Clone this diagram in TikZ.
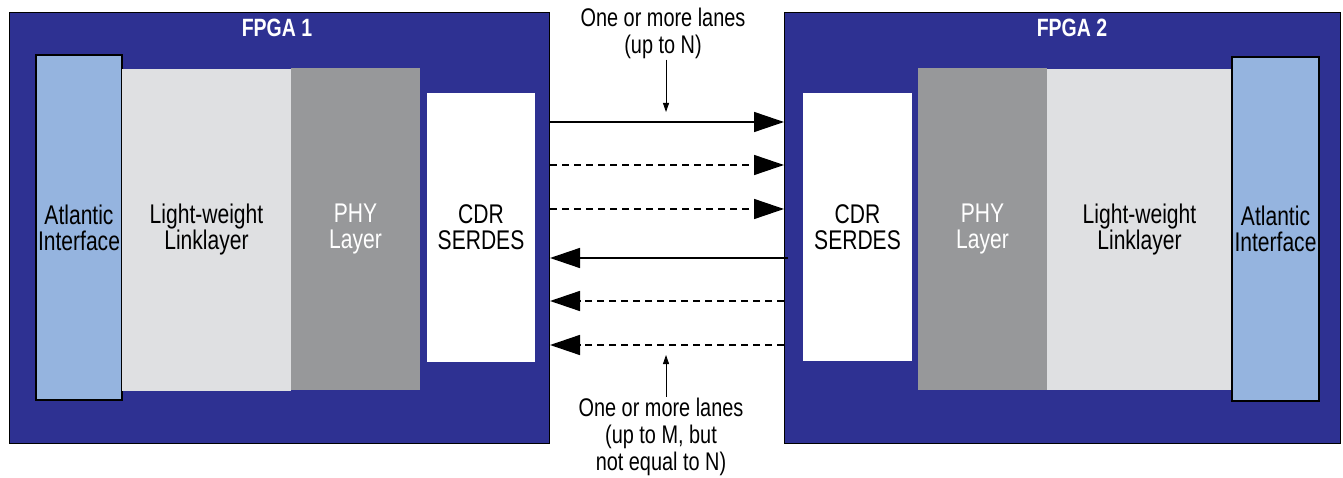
\documentclass[tikz,border=0pt]{standalone}
\usepackage{fontspec}
\setmainfont{Liberation Sans}[FakeStretch=0.78]
\usetikzlibrary{arrows.meta}
\definecolor{fpganavy}{HTML}{2E3192}
\definecolor{atlblue}{HTML}{95B4DF}
\definecolor{linkgray}{HTML}{DFE0E2}
\definecolor{phygray}{HTML}{97989A}
\begin{document}
\begin{tikzpicture}[x=1pt,y=-1pt,
    txt/.style={font=\fontsize{25.5}{27}\selectfont,align=center,inner sep=1pt},
    boxtxt/.style={font=\fontsize{27}{26}\selectfont,align=center,inner sep=0pt},
    fpgabox/.style={draw=black,line width=1pt,fill=fpganavy},
    atlbox/.style={boxtxt,draw=black,line width=1.2pt,fill=atlblue},
    linkbox/.style={boxtxt,fill=linkgray},
    phybox/.style={boxtxt,fill=phygray,text=white},
    cdrbox/.style={boxtxt,fill=white},
    lane/.style={line width=1.5pt,-{Triangle[length=30pt,width=20pt]}},
    note/.style={line width=0.8pt,-{Triangle[length=9pt,width=6pt]}}]
    \useasboundingbox (0,0) rectangle (1343,478);
    % the two FPGAs
    \node[fpgabox,minimum width=540pt,minimum height=430pt] (fpgaA) at (279.5,228) {};
    \node[fpgabox,minimum width=555.5pt,minimum height=430pt] (fpgaB) at (1062.25,228) {};
    \node[txt,text=white,font=\fontsize{25}{26}\selectfont\bfseries] (titleA) at (277,28) {FPGA 1};
    \node[txt,text=white,font=\fontsize{25}{26}\selectfont\bfseries] (titleB) at (1072,28) {FPGA 2};
    % FPGA 1 layers
    \node[atlbox,minimum width=86pt,minimum height=345pt] (atlA) at (79,227.5) {Atlantic\\Interface};
    \node[linkbox,minimum width=169pt,minimum height=322pt] (linkA) at (206.5,230) {Light-weight\\Linklayer};
    \node[phybox,minimum width=129pt,minimum height=322pt] (phyA) at (355.5,229) {PHY\\Layer};
    \node[cdrbox,minimum width=108pt,minimum height=269pt] (cdrA) at (481,227.5) {CDR\\SERDES};
    % FPGA 2 layers
    \node[cdrbox,minimum width=109pt,minimum height=268pt] (cdrB) at (857.5,227) {CDR\\SERDES};
    \node[phybox,minimum width=129pt,minimum height=322pt] (phyB) at (982.5,229) {PHY\\Layer};
    \node[linkbox,minimum width=185pt,minimum height=321pt] (linkB) at (1139.5,229.5) {Light-weight\\Linklayer};
    \node[atlbox,minimum width=87pt,minimum height=344pt] (atlB) at (1275.5,229) {Atlantic\\Interface};
    % lanes
    \coordinate (laneA) at (0,122);
    \coordinate (laneB) at (0,165);
    \coordinate (laneC) at (0,209);
    \coordinate (laneD) at (0,258);
    \coordinate (laneE) at (0,301);
    \coordinate (laneF) at (0,345);
    \draw[lane] (fpgaA.east |- laneA) -- (fpgaB.west |- laneA);
    \draw[lane,dash pattern=on 7pt off 5pt] (fpgaA.east |- laneB) -- (fpgaB.west |- laneB);
    \draw[lane,dash pattern=on 7pt off 5pt] (fpgaA.east |- laneC) -- (fpgaB.west |- laneC);
    \draw[lane] ([xshift=4pt]fpgaB.west |- laneD) -- (fpgaA.east |- laneD);
    \draw[lane,dash pattern=on 7pt off 5pt] (fpgaB.west |- laneE) -- (fpgaA.east |- laneE);
    \draw[lane,dash pattern=on 7pt off 5pt] (fpgaB.west |- laneF) -- (fpgaA.east |- laneF);
    % lane notes
    \node[txt] (noteN) at (663,33) {One or more lanes\\(up to N)};
    \node[txt] (noteM) at (661,437) {One or more lanes\\(up to M, but\\not equal to N)};
    \coordinate (tipN) at (666,112);
    \coordinate (tipM) at (666,355);
    \draw[note] (noteN.south -| tipN) -- (tipN);
    \draw[note] (noteM.north -| tipM) -- (tipM);
\end{tikzpicture}
\end{document}
